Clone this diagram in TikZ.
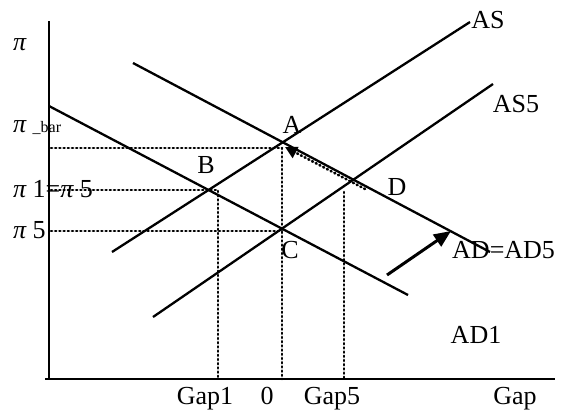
\documentclass[tikz,border=0pt]{standalone}
\usepackage{fontspec}
\setmainfont{Liberation Serif}
\usetikzlibrary{arrows.meta}
\begin{document}
\begin{tikzpicture}[x=1pt,y=-1pt,
  curve/.style={line width=2.3pt},
  axisline/.style={line width=2.8pt},
  dotline/.style={line width=2.6pt, line cap=round, dash pattern=on 1pt off 3.2pt},
  lbl/.style={inner sep=0pt, anchor=base, font=\fontsize{26}{26}\selectfont},
  lblw/.style={lbl, anchor=base west}]
\useasboundingbox (0,0) rectangle (561,416);
% axes
\coordinate (ytop) at (49,21);
\coordinate (orig) at (49,379);
\coordinate (xstart) at (45,379);
\coordinate (xend) at (555,379);
\draw[axisline] (ytop) -- (orig);
\draw[axisline] (xstart) -- (xend);
% curves
\coordinate (ad1a) at (49,106);  \coordinate (ad1b) at (408,295);
\coordinate (ada) at (133,63);   \coordinate (adb) at (490,252);
\coordinate (asa) at (112,252);  \coordinate (asb) at (470,22);
\coordinate (as5a) at (153,317); \coordinate (as5b) at (493,84);
\draw[curve] (ad1a) -- (ad1b);
\draw[curve] (ada) -- (adb);
\draw[curve] (asa) -- (asb);
\draw[curve] (as5a) -- (as5b);
% dotted guides
\coordinate (pbar) at (51,148);  \coordinate (adot) at (282,148);
\coordinate (zerob) at (282,379);
\coordinate (p1) at (51,190);    \coordinate (bdot) at (218,190);
\coordinate (gap1b) at (218,379);
\coordinate (p5) at (51,231);    \coordinate (cdot) at (282,231);
\coordinate (gap5t) at (344,192); \coordinate (gap5b) at (344,379);
\draw[dotline] (pbar) -- (adot);
\draw[dotline] (adot) -- (zerob);
\draw[dotline] (p1) -- (bdot) -- (gap1b);
\draw[dotline] (p5) -- (cdot);
\draw[dotline] (gap5t) -- (gap5b);
% dotted arrow D -> A
\coordinate (dstart) at (365,189);
\coordinate (aend) at (285,147);
\draw[dotline, -{Triangle[length=12pt,width=12pt]}] (dstart) -- (aend);
% shift arrow
\coordinate (sh1) at (387,275);
\coordinate (sh2) at (451,231);
\draw[line width=3pt, -{Triangle[length=17pt,width=14pt]}] (sh1) -- (sh2);
% labels
\node[lblw] (lpi) at (13,50) {\itshape π};
\node[lblw] (lpibar) at (13,132) {{\itshape π} {\fontsize{16}{16}\selectfont \_bar}};
\node[lblw] (lpi15) at (13,197) {{\itshape π} 1={\itshape π} 5};
\node[lblw] (lpi5) at (13,238) {{\itshape π} 5};
\node[lbl] (la) at (292,133) {A};
\node[lbl] (lb) at (206,173) {B};
\node[lbl] (lc) at (290,258) {C};
\node[lbl] (ld) at (397,195) {D};
\node[lbl] (las) at (488,28) {AS};
\node[lbl] (las5) at (516,112) {AS5};
\node[lblw] (lad) at (452,258) {AD=AD5};
\node[lbl] (lad1) at (476,343) {AD1};
\node[lbl] (lgap1) at (205,404) {Gap1};
\node[lbl] (lzero) at (267,404) {0};
\node[lbl] (lgap5) at (332,404) {Gap5};
\node[lbl] (lgap) at (515,404) {Gap};
\end{tikzpicture}
\end{document}
